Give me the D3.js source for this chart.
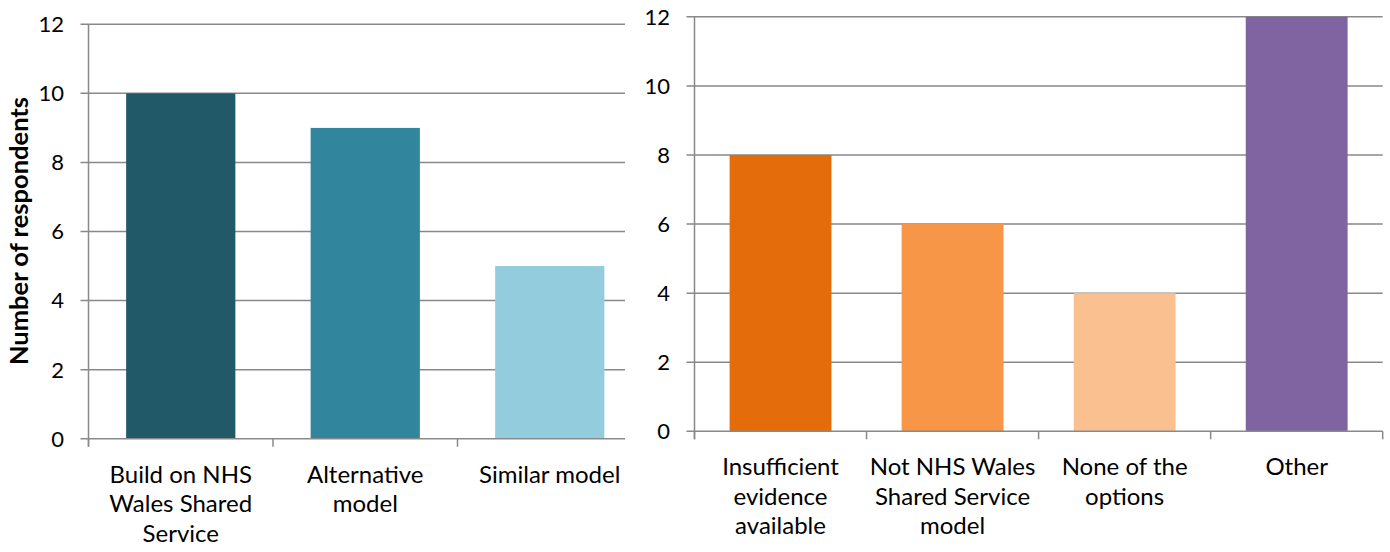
<!DOCTYPE html>
<html>
<head>
<meta charset="utf-8">
<script src="https://cdn.jsdelivr.net/npm/d3@7"></script>
<style>
    body { margin: 0; background: #fff; }
    svg { display: block; font-family: Lato, "Open Sans", sans-serif; }
</style>
</head>
<body>
<div id="chart"></div>
<script>
// data
const leftCategories = ["Build on NHS\nWales Shared\nService", "Alternative\nmodel", "Similar model"];
const leftValues = [10, 9, 5];
const leftColors = ["#215968", "#31859c", "#93cddd"];

const rightCategories = ["Insufficient\nevidence\navailable", "Not NHS Wales\nShared Service\nmodel", "None of the\noptions", "Other"];
const rightValues = [8, 6, 4, 12];
const rightColors = ["#e46c0a", "#f79646", "#fac090", "#8064a2"];

const yTicks = [0, 2, 4, 6, 8, 10, 12];
const yTitle = "Number of respondents";

let svg = d3.select("#chart")
    .append("svg")
    .attr("width", 1390)
    .attr("height", 552);

let gridColor = "#898989";
let tickFont = 22;
let catFont = 24;

// one excel-like column chart
let drawChart = (opts) => {
    let data = opts.categories.map((c, i) => ({cat: c, value: opts.values[i], color: opts.colors[i]}));

    let g = svg.append("g");
    if (opts.clipRight) {
        let id = "clip" + opts.name;
        svg.append("clipPath").attr("id", id)
            .append("rect").attr("x", 0).attr("y", 0)
            .attr("width", opts.clipRight).attr("height", 552);
        g.attr("clip-path", "url(#" + id + ")");
    }

    let x = d3.scaleBand()
        .domain(opts.categories)
        .range([opts.left, opts.right])
        .paddingInner(0.408)
        .paddingOuter(0.204);

    let y = d3.scaleLinear()
        .domain([0, 12])
        .range([opts.bottom, opts.top]);

    let plotRight = opts.clipRight || opts.right;

    // gridlines + y ticks
    g.selectAll(".grid")
        .data(yTicks.filter(t => t > 0))
        .enter()
        .append("line")
        .attr("x1", opts.left - 8)
        .attr("x2", plotRight)
        .attr("y1", d => y(d))
        .attr("y2", d => y(d))
        .style("stroke", gridColor)
        .style("stroke-width", 1.5);

    // bars
    g.selectAll(".bar")
        .data(data)
        .enter()
        .append("rect")
        .attr("x", d => x(d.cat))
        .attr("y", d => y(d.value))
        .attr("width", x.bandwidth())
        .attr("height", d => y(0) - y(d.value))
        .style("fill", d => d.color);

    // x axis line with category tick marks
    g.append("line")
        .attr("x1", opts.left - 8).attr("x2", plotRight)
        .attr("y1", y(0)).attr("y2", y(0))
        .style("stroke", gridColor).style("stroke-width", 1.5);

    let bounds = opts.categories.map(c => x(c) - x.step() * 0.204).concat([opts.right]);
    g.selectAll(".xtick")
        .data(bounds)
        .enter()
        .append("line")
        .attr("x1", d => d).attr("x2", d => d)
        .attr("y1", y(0)).attr("y2", y(0) + 8)
        .style("stroke", gridColor).style("stroke-width", 1.5);

    // y axis line
    g.append("line")
        .attr("x1", opts.left).attr("x2", opts.left)
        .attr("y1", y(12)).attr("y2", y(0) + 8)
        .style("stroke", gridColor).style("stroke-width", 1.5);

    // y tick labels
    g.selectAll(".ylab")
        .data(yTicks)
        .enter()
        .append("text")
        .attr("x", opts.left - 24.5)
        .attr("y", d => y(d))
        .attr("dy", "0.36em")
        .attr("text-anchor", "end")
        .style("font-size", tickFont + "px")
        .style("fill", "#000")
        .text(d => d);

    // category labels, wrapped over lines
    let labels = g.selectAll(".xlab")
        .data(data)
        .enter()
        .append("text")
        .attr("text-anchor", "middle")
        .style("font-size", catFont + "px")
        .style("fill", "#000");

    labels.each(function(d) {
        let lines = d.cat.split("\n");
        d3.select(this).selectAll("tspan")
            .data(lines)
            .enter()
            .append("tspan")
            .attr("x", x(d.cat) + x.bandwidth() / 2)
            .attr("y", (l, i) => y(0) + 44 + i * 29.5)
            .text(l => l);
    });
};

drawChart({name: "L", categories: leftCategories, values: leftValues, colors: leftColors,
    left: 88.5, right: 642, clipRight: 625, top: 24.3, bottom: 438.7});

drawChart({name: "R", categories: rightCategories, values: rightValues, colors: rightColors,
    left: 694.5, right: 1382.7, top: 16.8, bottom: 431.3});

// axis title of the left chart
svg.append("text")
    .attr("transform", "translate(19,231) rotate(-90)")
    .attr("text-anchor", "middle")
    .attr("dy", "0.36em")
    .style("font-size", "25.5px")
    .style("font-weight", "bold")
    .style("fill", "#000")
    .text(yTitle);
</script>
</body>
</html>
